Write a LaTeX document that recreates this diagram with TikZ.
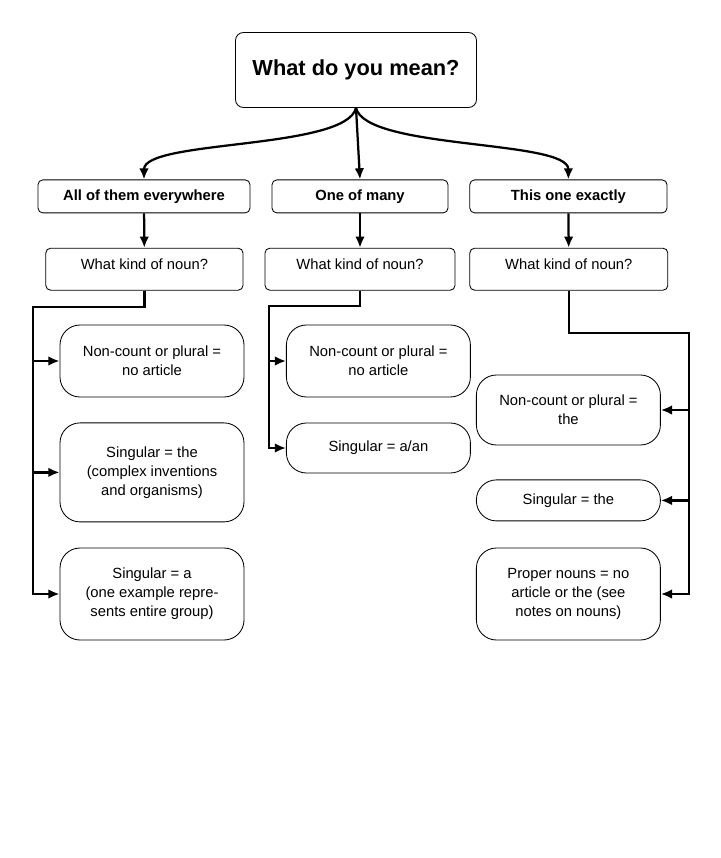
\documentclass[tikz,border=0pt]{standalone}
\usepackage{fontspec}
\setmainfont{Liberation Sans}
\usetikzlibrary{arrows.meta, positioning}

\begin{document}
\begin{tikzpicture}[
    titlebox/.style={rectangle, rounded corners=0.2cm, draw, line width=0.6pt, minimum width=6.025cm, minimum height=1.875cm, font=\fontsize{15.5}{18}\selectfont\bfseries},
    headbox/.style={rectangle, rounded corners=0.12cm, draw, line width=0.6pt, minimum height=0.825cm, font=\fontsize{10.5}{13}\selectfont\bfseries},
    askbox/.style={rectangle, rounded corners=0.12cm, draw, line width=0.6pt, minimum height=1.05cm, text height=0.4cm, text depth=0.4cm, font=\fontsize{10.5}{13}\selectfont},
    rulebox/.style={rectangle, rounded corners=0.5cm, draw, line width=0.6pt, minimum width=4.6cm, align=center, font=\fontsize{10.5}{13.5}\selectfont},
    arrow/.style={line width=1.6pt, -{Latex[length=2.8mm,width=2.4mm]}}
]

\useasboundingbox (0,0) rectangle (18,-21.45);

% question
\node[titlebox] (title) at (8.9,-1.75) {What do you mean?};

% meanings
\node[headbox, minimum width=5.3cm] (all) at (3.6,-4.91) {All of them everywhere};
\node[headbox, minimum width=4.4cm] (one) at (9.0,-4.91) {One of many};
\node[headbox, minimum width=4.93cm] (this) at (14.21,-4.91) {This one exactly};

% kind of noun
\node[askbox, minimum width=4.93cm] (kind_all) at (3.61,-6.73) {What kind of noun?};
\node[askbox, minimum width=4.75cm] (kind_one) at (9.0,-6.73) {What kind of noun?};
\node[askbox, minimum width=4.95cm] (kind_this) at (14.22,-6.73) {What kind of noun?};

% left column
\node[rulebox, minimum height=1.8cm] (all_noncount) at (3.8,-9.025) {Non-count or plural =\\no article};
\node[rulebox, minimum height=2.475cm] (all_the) at (3.8,-11.81) {Singular = the\\(complex inventions\\and organisms)};
\node[rulebox, minimum height=2.3cm] (all_a) at (3.8,-14.85) {Singular = a\\(one example repre-\\sents entire group)};

% middle column
\node[rulebox, minimum height=1.8cm] (one_noncount) at (9.46,-9.025) {Non-count or plural =\\no article};
\node[rulebox, minimum height=1.25cm] (one_a) at (9.46,-11.2) {Singular = a/an};

% right column
\node[rulebox, minimum height=1.75cm] (this_noncount) at (14.21,-10.25) {Non-count or plural =\\the};
\node[rulebox, minimum height=1.025cm] (this_the) at (14.21,-12.51) {Singular = the};
\node[rulebox, minimum height=2.3cm] (this_proper) at (14.21,-14.85) {Proper nouns = no\\article or the (see\\notes on nouns)};

% bus corners
\coordinate (bus_all) at (0.825,-7.675);
\coordinate (bus_one) at (6.725,-7.65);
\coordinate (bus_this) at (17.225,-8.325);

% from the question
\draw[arrow] (title.south) .. controls +(-0.25,-1.05) and +(0,1) .. (all.north);
\draw[arrow] (title.south) -- (one.north);
\draw[arrow] (title.south) .. controls +(0.25,-1.05) and +(0,1) .. (this.north);

\draw[arrow] (all) -- (kind_all);
\draw[arrow] (one) -- (kind_one);
\draw[arrow] (this) -- (kind_this);

% left branches
\draw[arrow] (kind_all.south) |- (bus_all) |- (all_noncount.west);
\draw[arrow] (kind_all.south) |- (bus_all) |- (all_the.west);
\draw[arrow] (kind_all.south) |- (bus_all) |- (all_a.west);

% middle branches
\draw[arrow] (kind_one.south) |- (bus_one) |- (one_noncount.west);
\draw[arrow] (kind_one.south) |- (bus_one) |- (one_a.west);

% right branches
\draw[arrow] (kind_this.south) |- (bus_this) |- (this_noncount.east);
\draw[arrow] (kind_this.south) |- (bus_this) |- (this_the.east);
\draw[arrow] (kind_this.south) |- (bus_this) |- (this_proper.east);

\end{tikzpicture}
\end{document}
